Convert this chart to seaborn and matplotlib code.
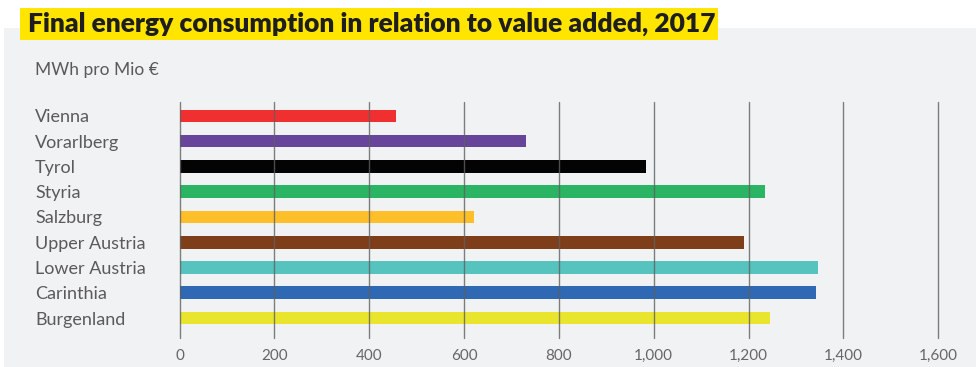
import matplotlib
matplotlib.use("Agg")
import matplotlib.pyplot as plt
from matplotlib.patches import Rectangle
import seaborn as sns
import pandas as pd

# Final energy consumption per value added, Austrian federal states, 2017
regions = ["Vienna", "Vorarlberg", "Tyrol", "Styria", "Salzburg",
           "Upper Austria", "Lower Austria", "Carinthia", "Burgenland"]
mwh_per_mio = [456, 731, 984, 1234, 621, 1190, 1346, 1342, 1245]
colors = ["#EF2F30", "#66459A", "#030303", "#2BB463", "#FEBF2A",
          "#7F3E1A", "#56C3BF", "#2F69B3", "#E9E52F"]
x_ticks = [0, 200, 400, 600, 800, 1000, 1200, 1400, 1600]
x_tick_labels = ["0", "200", "400", "600", "800", "1,000", "1,200", "1,400", "1,600"]

title = "Final energy consumption in relation to value added, 2017"
unit = "MWh pro Mio €"

df = pd.DataFrame({"region": regions, "value": mwh_per_mio})

sns.set_theme(style="white")
plt.rcParams["font.family"] = ["Lato", "DejaVu Sans"]

W, H = 976, 367
fig = plt.figure(figsize=(W / 100, H / 100), dpi=100)
fig.patch.set_facecolor("white")

# grey panel behind the chart
fig.patches.append(Rectangle((4 / W, 0), 1 - 4 / W, 1 - 28 / H,
                             transform=fig.transFigure, facecolor="#F1F2F4",
                             edgecolor="none", zorder=0))
# yellow title banner
fig.patches.append(Rectangle((20 / W, 1 - 40 / H), 698 / W, 32 / H,
                             transform=fig.transFigure, facecolor="#FFE500",
                             edgecolor="none", zorder=1))
fig.text(28 / W, 1 - 24 / H, title, fontsize=19, fontweight="heavy",
         color="#1E1E1E", va="center", ha="left", zorder=2)
fig.text(35 / W, 1 - 70 / H, unit, fontsize=12.5, color="#5A5A5A",
         va="center", ha="left")

left_px, right_px = 179.5, 938.3
top_px, bot_px = 102, 338
ax = fig.add_axes([left_px / W, 1 - bot_px / H,
                   (right_px - left_px) / W, (bot_px - top_px) / H])
ax.set_zorder(3)
ax.set_facecolor("none")

sns.barplot(data=df, y="region", x="value", hue="region", palette=colors,
            orient="h", width=0.5, legend=False, ax=ax, saturation=1,
            linewidth=0, edgecolor="none")

ax.set_xlim(0, 1600)
ax.set_ylim(8.79, -0.55)
ax.set_xticks(x_ticks)
ax.set_xticklabels(x_tick_labels, fontsize=11, color="#666666")
ax.set_yticks(range(len(regions)))
ax.set_yticklabels(regions, fontsize=13, color="#5A5A5A", ha="left")
ax.tick_params(axis="y", length=0, pad=(left_px - 35) * 0.72)
ax.tick_params(axis="x", length=0, pad=8)
ax.set_xlabel("")
ax.set_ylabel("")
for s in ax.spines.values():
    s.set_visible(False)

ax.set_axisbelow(False)
ax.grid(axis="x", color="#606060", linewidth=1.0, alpha=0.8)
ax.grid(axis="y", visible=False)
for line in ax.get_xgridlines():
    line.set_clip_on(False)
    line.set_zorder(5)

fig.savefig("out.png", dpi=100)
